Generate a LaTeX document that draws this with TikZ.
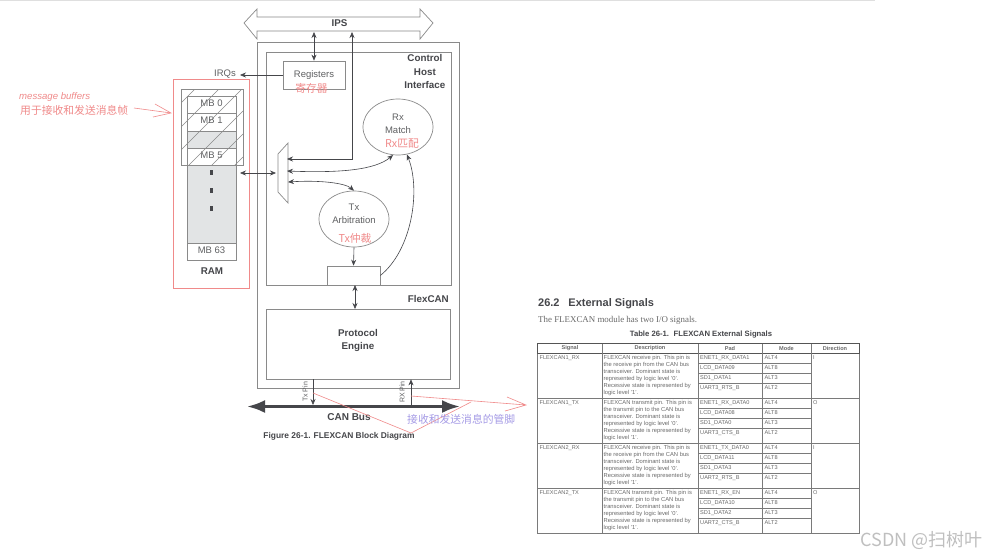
\documentclass[tikz,border=0pt]{standalone}
\usepackage{fontspec}
\setmainfont{Liberation Sans}
\newfontfamily\cjk{Noto Sans CJK SC}
\newfontfamily\serifbody{Liberation Serif}
\usetikzlibrary{arrows.meta,positioning,shapes.geometric}
\definecolor{diagline}{HTML}{8A8A8A}
\definecolor{difftext}{HTML}{5F6062}
\definecolor{darktext}{HTML}{45464A}
\definecolor{memgrey}{HTML}{E2E4E5}
\definecolor{anno}{HTML}{F08A8A}
\definecolor{annopurple}{HTML}{A59BE6}
\definecolor{tabline}{HTML}{7A7A7A}
\definecolor{tabtext}{HTML}{6A6A6A}
\newcommand{\fsz}[1]{\fontsize{#1}{#1}\selectfont}
\tikzset{
  box/.style={draw=diagline,line width=.7pt,inner sep=0pt,anchor=center},
  lbl/.style={inner sep=0pt,text=difftext,font=\fsz{9.5},align=center},
  blbl/.style={inner sep=0pt,text=darktext,font=\bfseries\fsz{9.8},align=center},
  conn/.style={draw=darktext,line width=.6pt,-{Stealth[length=6pt,width=5pt]}},
  dconn/.style={draw=darktext,line width=.6pt,{Stealth[length=6pt,width=5pt]}-{Stealth[length=6pt,width=5pt]}},
  annoline/.style={draw=anno,line width=.6pt},
  annotext/.style={inner sep=0pt,text=anno,font=\cjk\fsz{10.8}},
  thead/.style={inner sep=0pt,text=tabtext,font=\bfseries\fsz{5.6}},
  tcell/.style={inner sep=0pt,anchor=west,text=tabtext,font=\fsz{5.6}},
  tdesc/.style={inner sep=0pt,anchor=north west,text=tabtext,align=left,font=\fontsize{5.8}{7}\selectfont},
  tl/.style={draw=tabline,line width=.5pt},
  thl/.style={draw=tabline!70!black,line width=.8pt},
}
\newcommand{\descrx}[2]{\node[tdesc] (#1) at (#2) {FLEXCAN receive pin. This pin is\\the receive pin from the CAN bus\\transceiver. Dominant state is\\represented by logic level '0'.\\Recessive state is represented by\\logic level '1'.};}
\newcommand{\desctx}[2]{\node[tdesc] (#1) at (#2) {FLEXCAN transmit pin. This pin is\\the transmit pin to the CAN bus\\transceiver. Dominant state is\\represented by logic level '0'.\\Recessive state is represented by\\logic level '1'.};}
\begin{document}
\begin{tikzpicture}[x=1pt,y=-1pt]
\useasboundingbox (0,0) rectangle (987,557);
\fill[white] (0,0) rectangle (987,557);
\draw[gray!25,line width=.8pt] (0,.5) -- (875,.5);

% outer boxes
\node[box,minimum width=202pt,minimum height=346pt] (flexcan) at (358,215) {};
\node[box,minimum width=185pt,minimum height=233pt] (chi) at (358.5,168.5) {};
\node[box,minimum width=184pt,minimum height=70pt] (pe) at (358,344) {};
\node[blbl] (petext) at (358,341) {\begin{tabular}{@{}c@{}}Protocol\\[3.6pt]Engine\end{tabular}};
\node[blbl,anchor=east] (flexlbl) at (449,299) {FlexCAN};
\node[blbl,anchor=north east] (chilbl) at (445.5,54.5) {\begin{tabular}{@{}c@{}}Control\\[3.6pt]Host\\[3.6pt]Interface\end{tabular}};

% IPS
\draw[diagline,line width=.7pt] (244,23) -- (257,9) -- (257,17) -- (420,17) -- (420,9) -- (433,23) -- (420,39) -- (420,31) -- (257,31) -- (257,39) -- cycle;
\node[blbl] (ips) at (339.5,23) {IPS};
\coordinate (ipsa) at (314,32);
\coordinate (ipsb) at (352,32);

% Registers etc.
\node[box,minimum width=62pt,minimum height=28pt] (reg) at (314,75) {};
\node[lbl] (regtext) at (314,75) {Registers};
\node[lbl] (irq) at (225,74.5) {IRQs};
\coordinate (irqport) at (240,75);
\node[box,minimum width=70pt,minimum height=56pt,shape=ellipse] (rx) at (398,127) {};
\node[lbl] (rxtext) at (398,125) {\begin{tabular}{@{}c@{}}Rx\\[3.6pt]Match\end{tabular}};
\node[box,minimum width=70pt,minimum height=56pt,shape=ellipse] (tx) at (354,219) {};
\node[lbl] (txtext) at (354,215) {\begin{tabular}{@{}c@{}}Tx\\[3.6pt]Arbitration\end{tabular}};
\node[box,minimum width=53pt,minimum height=19pt] (small) at (353.5,275.5) {};

% mux
\draw[diagline,line width=.7pt] (278,154) -- (288,143) -- (288,203) -- (278,192) -- cycle;
\coordinate (muxa) at (287,159);
\coordinate (muxb) at (287,171);
\coordinate (muxc) at (288,182);
\coordinate (muxl) at (276,173);

% RAM
\fill[memgrey] (187.5,131) rectangle (236,148);
\fill[memgrey] (187.5,165) rectangle (236,243);
\draw[diagline,line width=.6pt] (187.5,96.5) rectangle (236,260);
\node[box,minimum width=48.5pt,minimum height=17pt] (mb0) at (211.75,105) {};
\node[box,minimum width=48.5pt,minimum height=18pt] (mb1) at (211.75,122) {};
\node[box,minimum width=48.5pt,minimum height=17pt] (mb5) at (211.75,156.5) {};
\node[box,minimum width=48.5pt,minimum height=17pt] (mb63) at (211.75,251.5) {};
\node[lbl] (mb0t) at (211.5,103) {MB 0};
\node[lbl] (mb1t) at (211.5,120.5) {MB 1};
\node[lbl] (mb5t) at (211.5,155) {MB 5};
\node[lbl] (mb63t) at (211.5,250) {MB 63};
\begin{scope}
\clip (181,89) rectangle (243,165);
\foreach \c in {103,127,150,173,196,219,242}
  \draw[diagline,line width=.45pt] (181,\c) -- (243,\c-62);
\end{scope}
\node[box,minimum width=62pt,minimum height=76pt] (hatch) at (212,127) {};
\foreach \n/\yy in {d1/172,d2/190,d3/208}
  \node[fill=darktext,inner sep=0pt,minimum width=3pt,minimum height=5pt] (\n) at (211.5,\yy) {};
\node[blbl] (ram) at (212,271) {RAM};
\node[draw=anno,line width=.8pt,inner sep=0pt,minimum width=76pt,minimum height=209pt] (ramred) at (211,183.5) {};
\coordinate (ramport) at (240,173);

% connectors
\draw[dconn] (reg.north) -- (ipsa);
\draw[conn] (reg.west) -- (irqport);
\draw[dconn] (muxa) -- (352,159) -- (ipsb);
\draw[dconn] (muxb) .. controls (340,173) and (375,170) .. (rx.-100);
\draw[dconn] (muxc) .. controls (320,180) and (345,183) .. (tx.north);
\draw[dconn] (ramport) -- (muxl);
\draw[conn] (tx.south) -- (small.north);
\draw[conn] (small.east) .. controls (412,250) and (421,190) .. (rx.-72);
\draw[dconn] (355,285) -- (355,309);
\coordinate (busl) at (247,406.5);
\coordinate (busr) at (460,406.5);
\draw[draw=darktext,line width=3pt,{Latex[length=18pt,width=13pt]}-{Latex[length=18pt,width=13pt]}] (busl) -- (busr);
\coordinate (txbus) at (313,405);
\coordinate (rxbus) at (411,405);
\draw[conn] (pe.south -| txbus) -- (txbus);
\draw[conn] (rxbus) -- (pe.south -| rxbus);
\node[inner sep=0pt,text=difftext,font=\fsz{7},rotate=90] (txpin) at (305,392) {Tx Pin};
\node[inner sep=0pt,text=difftext,font=\fsz{7},rotate=90] (rxpin) at (402,392) {RX Pin};
\node[blbl,font=\bfseries\fsz{10}] (canbus) at (349,417) {CAN Bus};
\node[inner sep=0pt,text=darktext,font=\bfseries\fsz{8.4}] (figcap) at (339,436) {Figure 26-1. FLEXCAN Block Diagram};

% red annotations
\node[annotext,font=\itshape\fsz{9.6},anchor=west] (msg) at (19,97) {message buffers};
\node[annotext,anchor=west] (yong) at (20,110.5) {用于接收和发送消息帧};
\coordinate (arr1) at (134,108);
\coordinate (arr1t) at (171,113);
\draw[annoline] (arr1) -- (arr1t) (155,104) -- (arr1t) -- (153,117);
\node[annotext] (regzh) at (311.5,88) {寄存器};
\node[annotext] (rxzh) at (402,144) {Rx匹配};
\node[annotext] (txzh) at (355,238) {Tx仲裁};
\coordinate (ra) at (313,393);
\coordinate (rb) at (411,433);
\coordinate (rc) at (471,402);
\coordinate (rd) at (411,396);
\coordinate (re) at (526,405);
\draw[annoline] (ra) -- (rb) -- (rc);
\draw[annoline] (rd) -- (re) (507,397) -- (re) -- (505,411);
\node[annotext,text=annopurple,anchor=west] (guan) at (407,419.5) {接收和发送消息的管脚};

% right side text
\node[inner sep=0pt,anchor=west,text=darktext,font=\bfseries\fsz{11}] (sec) at (538,303.5) {26.2\hspace{.8em}External Signals};
\node[inner sep=0pt,anchor=west,text=tabtext,font=\serifbody\fsz{8.9}] (intro) at (538,320.5) {The FLEXCAN module has two I/O signals.};
\node[inner sep=0pt,text=darktext,font=\bfseries\fsz{7.7}] (tabcap) at (701,335) {Table 26-1.\hspace{.6em}FLEXCAN External Signals};

% table
\draw[thl] (537.5,343.5) rectangle (859,353.5);
\draw[tl] (537.5,353.5) -- (537.5,533) -- (859,533) -- (859,353.5);
\foreach \x in {602,698,762,811} \draw[tl] (\x,343.5) -- (\x,533);
\foreach \y in {398,443,488} \draw[tl] (537.5,\y) -- (859,\y);
\foreach \y in {363,373,383,408,418,428,453,463,473,498,508,518} \draw[tl] (698,\y) -- (811,\y);
\node[thead] (hs) at (570,348.5) {Signal};
\node[thead] (hd) at (650,348.5) {Description};
\node[thead] (hp) at (730,348.5) {Pad};
\node[thead] (hm) at (786.5,348.5) {Mode};
\node[thead] (hi) at (835,348.5) {Direction};

\node[tcell] (s1) at (539.5,358) {FLEXCAN1\_RX};
\node[tcell] (s2) at (539.5,403) {FLEXCAN1\_TX};
\node[tcell] (s3) at (539.5,448) {FLEXCAN2\_RX};
\node[tcell] (s4) at (539.5,493) {FLEXCAN2\_TX};
\descrx{d1x}{603.5,355.2}
\desctx{d2x}{603.5,400.2}
\descrx{d3x}{603.5,445.2}
\desctx{d4x}{603.5,490.2}
\foreach \n/\yy/\pa/\pb/\pc/\pd in {
  r1/358/ENET1\_RX\_DATA1/LCD\_DATA09/SD1\_DATA1/UART3\_RTS\_B,
  r2/403/ENET1\_RX\_DATA0/LCD\_DATA08/SD1\_DATA0/UART3\_CTS\_B,
  r3/448/ENET1\_TX\_DATA0/LCD\_DATA11/SD1\_DATA3/UART2\_RTS\_B,
  r4/493/ENET1\_RX\_EN/LCD\_DATA10/SD1\_DATA2/UART2\_CTS\_B}{
  \node[tcell] (\n a) at (700,\yy) {\pa};
  \node[tcell] (\n b) at (700,\yy+10) {\pb};
  \node[tcell] (\n c) at (700,\yy+20) {\pc};
  \node[tcell] (\n d) at (700,\yy+30) {\pd};
  \node[tcell] (\n e) at (764.5,\yy) {ALT4};
  \node[tcell] (\n f) at (764.5,\yy+10) {ALT8};
  \node[tcell] (\n g) at (764.5,\yy+20) {ALT3};
  \node[tcell] (\n h) at (764.5,\yy+30) {ALT2};
}
\node[tcell] (dir1) at (813,358) {I};
\node[tcell] (dir2) at (813,403) {O};
\node[tcell] (dir3) at (813,448) {I};
\node[tcell] (dir4) at (813,493) {O};

% watermark
\node[inner sep=0pt,anchor=east,text=gray!50,font=\cjk\fsz{18}] (wm) at (983,540) {CSDN @扫树叶};
\end{tikzpicture}
\end{document}
